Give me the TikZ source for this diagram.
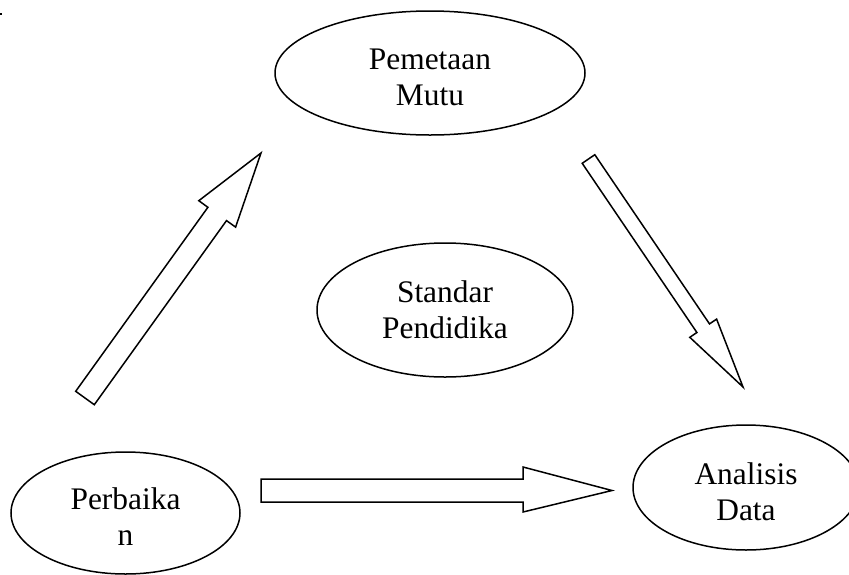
\documentclass[tikz,border=0pt]{standalone}
\usepackage{fontspec}
\setmainfont{Liberation Serif}
\usetikzlibrary{shapes.geometric}
\tikzset{
  oval/.style={ellipse, draw=black, line width=1.5pt, inner sep=0pt},
  ovaltext/.style={inner sep=0pt, align=center, font=\fontsize{31.4}{36.1}\selectfont},
  blockarrow/.style={draw=black, fill=white, line width=1.5pt, line join=miter}
}
\begin{document}
\begin{tikzpicture}[x=1pt, y=-1pt]
\useasboundingbox (0,0) rectangle (849,574);
\clip (0,0) rectangle (849,574);
\fill[white] (0,0) rectangle (849,574);
% stray mark top-left
\fill[black] (0,12.5) rectangle (2,15);
% ellipses
\node[oval, minimum width=310pt, minimum height=124pt] (pm) at (430,73) {};
\node[oval, minimum width=256pt, minimum height=134pt] (sp) at (445,310) {};
\node[oval, minimum width=229pt, minimum height=122pt] (pb) at (125.5,513) {};
\node[oval, minimum width=226pt, minimum height=125pt] (ad) at (746,487.5) {};
% texts
\node[ovaltext] (pmt) at ([yshift=-4pt]pm.center) {Pemetaan\\Mutu};
\node[ovaltext] (spt) at (sp.center) {Standar\\Pendidika};
\node[ovaltext] (pbt) at ([yshift=-4pt]pb.center) {Perbaika\\n};
\node[ovaltext] (adt) at ([yshift=-4pt]ad.center) {Analisis\\Data};
% block arrows
\draw[blockarrow] (75.7,391.3) -- (207.9,207.3) -- (198.8,200.7) -- (261,153)
  -- (235.6,227.1) -- (226.5,220.6) -- (94.3,404.7) -- cycle;
\draw[blockarrow] (582.2,163.3) -- (594.8,154.7) -- (709.5,323.9) -- (716.6,319.1)
  -- (743,387) -- (689.8,337.3) -- (696.9,332.5) -- cycle;
\draw[blockarrow] (261,479) -- (523,479) -- (523,467) -- (612,490.5)
  -- (523,512) -- (523,502) -- (261,502) -- cycle;
\end{tikzpicture}
\end{document}
